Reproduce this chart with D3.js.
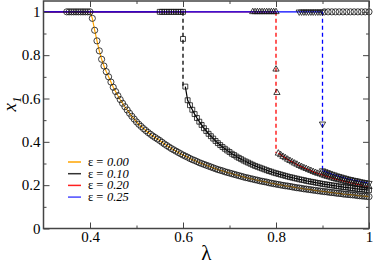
<!DOCTYPE html>
<html>
<head>
<meta charset="utf-8">
<script src="https://cdn.jsdelivr.net/npm/d3@7"></script>
<style>
  body { margin: 0; background: #fff; }
  svg { display: block; }
</style>
</head>
<body>
<div id="chart"></div>
<script>
// x1 as a function of lambda, one series per epsilon
const epsLabels = ["0.00", "0.10", "0.20", "0.25"];

// lambda where the branch leaves x1 = 1
const jumpLam = [0.40, 0.60, 0.80, 0.90];

// markers sitting on x1 = 1 just before the jump
const plateauLam = [
    [0.350, 0.355, 0.360, 0.365, 0.370, 0.375, 0.380, 0.385, 0.390, 0.395, 0.400],
    [0.550, 0.555, 0.560, 0.565, 0.570, 0.575, 0.580, 0.585, 0.590, 0.595, 0.600],
    [0.750, 0.755, 0.760, 0.765, 0.770, 0.775, 0.780, 0.785, 0.790, 0.795, 0.800],
    [0.850, 0.855, 0.860, 0.865, 0.870, 0.875, 0.880, 0.885, 0.890, 0.895, 0.900]
];

// transient points on the dashed drop
const dropLam = [[], [0.600], [0.800, 0.802], [0.900]];
const dropX1 = [[], [0.875], [0.735, 0.627], [0.483]];

// lower branch, sampled every 0.005 in lambda from branchStart
const branchStart = [0.405, 0.605, 0.805, 0.900];

const x1Eps000 = [
    0.970, 0.915, 0.866, 0.820, 0.781, 0.750, 0.724, 0.700, 0.676, 0.652,
    0.632, 0.613, 0.595, 0.578, 0.562, 0.547, 0.532, 0.518, 0.505, 0.492,
    0.481, 0.471, 0.461, 0.452, 0.443, 0.435, 0.427, 0.420, 0.413, 0.406,
    0.398, 0.390, 0.383, 0.376, 0.369, 0.363, 0.357, 0.351, 0.345, 0.339,
    0.334, 0.329, 0.323, 0.318, 0.314, 0.309, 0.304, 0.300, 0.296, 0.292,
    0.288, 0.284, 0.280, 0.276, 0.272, 0.269, 0.266, 0.262, 0.259, 0.256,
    0.253, 0.250, 0.247, 0.244, 0.241, 0.238, 0.235, 0.233, 0.230, 0.228,
    0.225, 0.223, 0.220, 0.218, 0.216, 0.214, 0.211, 0.209, 0.207, 0.205,
    0.203, 0.201, 0.199, 0.197, 0.196, 0.194, 0.192, 0.190, 0.188, 0.187,
    0.185, 0.183, 0.182, 0.180, 0.179, 0.177, 0.176, 0.174, 0.173, 0.171,
    0.170, 0.169, 0.167, 0.166, 0.165, 0.163, 0.162, 0.161, 0.159, 0.158,
    0.157, 0.156, 0.155, 0.154, 0.152, 0.151, 0.150, 0.149, 0.148, 0.147
];

const x1Eps010 = [
    0.655, 0.592, 0.569, 0.548, 0.528, 0.510, 0.493, 0.478, 0.463, 0.450,
    0.437, 0.426, 0.415, 0.404, 0.394, 0.385, 0.376, 0.368, 0.360, 0.353,
    0.345, 0.339, 0.332, 0.326, 0.320, 0.314, 0.309, 0.304, 0.299, 0.294,
    0.289, 0.285, 0.281, 0.277, 0.273, 0.269, 0.265, 0.262, 0.258, 0.255,
    0.252, 0.249, 0.246, 0.243, 0.240, 0.237, 0.235, 0.232, 0.230, 0.227,
    0.225, 0.223, 0.220, 0.218, 0.216, 0.214, 0.212, 0.210, 0.208, 0.206,
    0.204, 0.203, 0.201, 0.199, 0.198, 0.196, 0.194, 0.193, 0.191, 0.190,
    0.189, 0.187, 0.186, 0.184, 0.183, 0.182, 0.181, 0.179, 0.178, 0.177
];

const x1Eps020 = [
    0.347, 0.340, 0.332, 0.326, 0.319, 0.313, 0.307, 0.301, 0.296, 0.290,
    0.285, 0.280, 0.276, 0.271, 0.267, 0.262, 0.258, 0.254, 0.251, 0.247,
    0.243, 0.240, 0.237, 0.233, 0.230, 0.227, 0.224, 0.222, 0.219, 0.216,
    0.214, 0.211, 0.209, 0.206, 0.204, 0.202, 0.199, 0.197, 0.195, 0.193
];

const x1Eps025 = [
    0.267, 0.263, 0.259, 0.255, 0.251, 0.248, 0.244, 0.241, 0.238, 0.235,
    0.232, 0.229, 0.227, 0.224, 0.222, 0.220, 0.217, 0.215, 0.213, 0.211, 0.209
];

const branchX1 = [x1Eps000, x1Eps010, x1Eps020, x1Eps025];

// extra open circles along x1 = 1 at the right end
const topCircleLam = [0.904, 0.912, 0.920, 0.928, 0.936, 0.944, 0.952, 0.960, 0.968, 0.976, 0.984, 0.992, 1.000];

const xTicks = [0.4, 0.6, 0.8, 1];
const xMinor = [0.5, 0.7, 0.9];
const yTicks = [0, 0.2, 0.4, 0.6, 0.8, 1];
const yMinor = [0.1, 0.3, 0.5, 0.7, 0.9];

// styles
const lineColors = ["#ffa500", "#000000", "#ff0000", "#0000ff"];
const legendColors = ["#ffa500", "#333333", "#ff2020", "#4a4aff"];
const markerTypes = ["circle", "square", "up", "down"];
const serif = '"Liberation Serif"';

function lamGrid(start, n) {
    return d3.range(n).map(i => +(start + i * 0.005).toFixed(3));
}

function drawChart() {
    const width = 374, height = 263;
    const margin = { left: 43.5, right: 5, top: 1, bottom: 34.5 };

    const svg = d3.select("#chart")
        .append("svg")
        .attr("width", width)
        .attr("height", height);

    const x = d3.scaleLinear().domain([0.3, 1]).range([margin.left, width - margin.right]);
    const y = d3.scaleLinear().domain([0, 1.05]).range([height - margin.bottom, margin.top]);

    const frameColor = "#444";

    svg.append("clipPath").attr("id", "plot-clip")
        .append("rect")
        .attr("x", x(0.3)).attr("y", y(1.05))
        .attr("width", x(1) - x(0.3) + 4).attr("height", y(0) - y(1.05));

    const plot = svg.append("g").attr("clip-path", "url(#plot-clip)");

    const line = d3.line().x(d => x(d[0])).y(d => y(d[1]));

    // branches and dashed drops
    for (let i = 0; i < 4; i++) {
        const lam = lamGrid(branchStart[i], branchX1[i].length);
        const branch = lam.map((l, k) => [l, branchX1[i][k]]);
        if (i === 0) {
            plot.append("path")
                .attr("d", line([[jumpLam[i], 1]].concat(branch)))
                .attr("fill", "none")
                .attr("stroke", lineColors[i])
                .attr("stroke-width", 1.2);
        } else {
            plot.append("path")
                .attr("d", line(branch))
                .attr("fill", "none")
                .attr("stroke", lineColors[i])
                .attr("stroke-width", 1.2);
            plot.append("path")
                .attr("d", line([[jumpLam[i], 1], [jumpLam[i], branch[0][1]]]))
                .attr("fill", "none")
                .attr("stroke", lineColors[i])
                .attr("stroke-width", 1.3)
                .attr("stroke-dasharray", "4,3");
        }
    }
    // horizontal x1 = 1 parts (blue drawn last so it sits on top)
    for (let i = 0; i < 4; i++) {
        plot.append("path")
            .attr("d", line([[0.3, 1], [jumpLam[i], 1]]))
            .attr("fill", "none")
            .attr("stroke", lineColors[i])
            .attr("stroke-width", 1.2);
    }

    // markers
    const symbolFor = {
        circle: d3.symbol().type(d3.symbolCircle).size(30),
        square: d3.symbol().type(d3.symbolSquare).size(24),
        up: d3.symbol().type(d3.symbolTriangle).size(17),
        down: d3.symbol().type(d3.symbolTriangle).size(17)
    };

    function drawMarkers(points, type) {
        plot.append("g")
            .selectAll("path")
            .data(points)
            .join("path")
            .attr("d", symbolFor[type]())
            .attr("transform", d => `translate(${x(d[0])},${y(d[1])})` + (type === "down" ? " rotate(180)" : ""))
            .attr("fill", "none")
            .attr("stroke", "#111")
            .attr("stroke-width", 0.8);
    }

    for (let i = 0; i < 4; i++) {
        const lam = lamGrid(branchStart[i], branchX1[i].length);
        const pts = plateauLam[i].map(l => [l, 1])
            .concat(dropLam[i].map((l, k) => [l, dropX1[i][k]]))
            .concat(lam.map((l, k) => [l, branchX1[i][k]]));
        drawMarkers(pts, markerTypes[i]);
    }
    drawMarkers(topCircleLam.map(l => [l, 1]), "circle");

    // axes with inward ticks
    function styleAxis(g) {
        g.select(".domain").remove();
        g.selectAll(".tick line").attr("stroke", frameColor).attr("stroke-width", 1);
        g.selectAll(".tick text")
            .attr("fill", "#000")
            .style("font-family", serif)
            .style("font-size", "15px");
    }

    svg.append("g")
        .attr("transform", `translate(0,${y(0)})`)
        .call(d3.axisBottom(x).tickValues(xTicks).tickSize(-6).tickPadding(3)
            .tickFormat(d => d === 1 ? "1" : d3.format(".1f")(d)))
        .call(styleAxis);
    svg.append("g")
        .attr("transform", `translate(0,${y(0)})`)
        .call(d3.axisBottom(x).tickValues(xMinor).tickSize(-3).tickFormat(""))
        .call(styleAxis);
    svg.append("g")
        .attr("transform", `translate(0,${y(1.05)})`)
        .call(d3.axisTop(x).tickValues(xTicks).tickSize(-6).tickFormat(""))
        .call(styleAxis);
    svg.append("g")
        .attr("transform", `translate(0,${y(1.05)})`)
        .call(d3.axisTop(x).tickValues(xMinor).tickSize(-3).tickFormat(""))
        .call(styleAxis);

    svg.append("g")
        .attr("transform", `translate(${x(0.3)},0)`)
        .call(d3.axisLeft(y).tickValues(yTicks).tickSize(-6).tickPadding(3)
            .tickFormat(d => (d === 0 || d === 1) ? String(d) : d3.format(".1f")(d)))
        .call(styleAxis);
    svg.append("g")
        .attr("transform", `translate(${x(0.3)},0)`)
        .call(d3.axisLeft(y).tickValues(yMinor).tickSize(-3).tickFormat(""))
        .call(styleAxis);
    svg.append("g")
        .attr("transform", `translate(${x(1)},0)`)
        .call(d3.axisRight(y).tickValues(yTicks).tickSize(-6).tickFormat(""))
        .call(styleAxis);
    svg.append("g")
        .attr("transform", `translate(${x(1)},0)`)
        .call(d3.axisRight(y).tickValues(yMinor).tickSize(-3).tickFormat(""))
        .call(styleAxis);

    // frame
    svg.append("rect")
        .attr("x", x(0.3)).attr("y", y(1.05))
        .attr("width", x(1) - x(0.3)).attr("height", y(0) - y(1.05))
        .attr("fill", "none")
        .attr("stroke", frameColor)
        .attr("stroke-width", 1.5);

    // axis titles
    svg.append("text")
        .attr("x", (x(0.3) + x(1)) / 2)
        .attr("y", 259.5)
        .attr("text-anchor", "middle")
        .style("font-family", serif)
        .style("font-size", "21px")
        .text("λ");

    const yTitle = svg.append("text")
        .attr("transform", "translate(16,104) rotate(-90)")
        .attr("text-anchor", "middle")
        .style("font-family", serif)
        .style("font-size", "19px")
        .style("font-style", "italic");
    yTitle.append("tspan").text("x");
    yTitle.append("tspan").attr("dy", 5).style("font-size", "13px").text("1");

    // legend: line, upright "ε =", italic value
    const legend = svg.append("g").attr("transform", "translate(68,162)");
    epsLabels.forEach((lab, i) => {
        const g = legend.append("g").attr("transform", `translate(0,${i * 11.7})`);
        g.append("line")
            .attr("x1", 0).attr("x2", 13)
            .attr("y1", 0).attr("y2", 0)
            .attr("stroke", legendColors[i])
            .attr("stroke-width", 1.5);
        const head = g.append("text")
            .attr("x", 20).attr("y", 4)
            .style("font-family", serif)
            .style("font-size", "12.5px")
            .text("ε =");
        const w = head.node().getComputedTextLength();
        g.append("text")
            .attr("x", 20 + w + 3.5).attr("y", 4)
            .style("font-family", serif)
            .style("font-size", "12.5px")
            .style("font-style", "italic")
            .text(lab);
    });
}

document.addEventListener("DOMContentLoaded", function () {
    drawChart();
});
</script>
</body>
</html>
